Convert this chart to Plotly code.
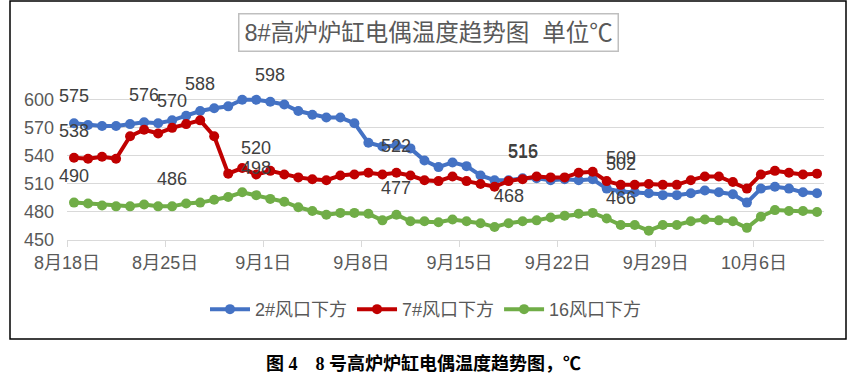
import pandas as pd
import plotly.graph_objects as go

dates = pd.date_range("2023-08-18", periods=54, freq="D")

blue_name = "2#风口下方"
red_name = "7#风口下方"
green_name = "16风口下方"

blue_vals = [575, 573, 572, 572, 574, 576, 575, 578, 583, 588,
             591, 593, 600, 600, 598, 595, 588, 584, 581, 581,
             575, 554, 550, 551, 548, 535, 528, 533, 529, 519,
             514, 514, 516, 516, 514, 515, 514, 515, 505, 502,
             501, 500, 498, 498, 500, 503, 501, 499, 490, 505,
             507, 505, 501, 500]
red_vals = [538, 537, 539, 537, 561, 568, 564, 570, 574, 578,
            561, 521, 527, 520, 524, 520, 517, 515, 514, 519,
            520, 522, 520, 522, 519, 514, 513, 518, 513, 510,
            507, 513, 515, 518, 517, 517, 522, 523, 513, 509,
            509, 510, 509, 509, 514, 518, 518, 512, 505, 520,
            524, 522, 520, 521]
green_vals = [490, 489, 487, 486, 486, 488, 486, 486, 489, 490,
              493, 496, 501, 498, 494, 491, 485, 481, 477, 479,
              479, 478, 471, 477, 470, 470, 469, 472, 470, 468,
              464, 468, 470, 471, 474, 476, 478, 479, 473, 466,
              466, 460, 466, 466, 470, 472, 471, 470, 463, 475,
              482, 481, 481, 480]

# indices of points that carry a data label
blue_label_idx = [0, 5, 9, 14, 32, 39]
red_label_idx = [0, 7, 13, 23, 32, 39]
green_label_idx = [0, 7, 13, 23, 31, 39]

tick_dates = ["2023-08-18", "2023-08-25", "2023-09-01", "2023-09-08",
              "2023-09-15", "2023-09-22", "2023-09-29", "2023-10-06"]
tick_labels = ["8月18日", "8月25日", "9月1日", "9月8日",
               "9月15日", "9月22日", "9月29日", "10月6日"]
y_ticks = [450, 480, 510, 540, 570, 600]

title_text = "8#高炉炉缸电偶温度趋势图  单位℃"
caption_text = "图 4　8 号高炉炉缸电偶温度趋势图，℃"

FONT = "Liberation Sans, Arial, Noto Sans CJK SC, sans-serif"
TXT = "#595959"
FS = 18

series = [
    (blue_name, blue_vals, "#4472C4", blue_label_idx),
    (red_name, red_vals, "#C00000", red_label_idx),
    (green_name, green_vals, "#70AD47", green_label_idx),
]

fig = go.Figure()
annotations = []
for name, vals, color, lidx in series:
    fig.add_trace(go.Scatter(
        x=dates, y=vals, name=name, mode="lines+markers",
        line=dict(color=color, width=4),
        marker=dict(color=color, size=10),
        cliponaxis=False,
    ))
    for i in lidx:
        annotations.append(dict(
            x=dates[i], y=vals[i], xref="x", yref="y",
            text=str(vals[i]), showarrow=False, yshift=27,
            font=dict(family=FONT, size=FS, color="#404040"),
        ))

half_day = pd.Timedelta(hours=12)
tickvals = [pd.Timestamp(d) - half_day for d in tick_dates]

annotations.append(dict(
    x=(428 - 67) / 757, y=(240 - 37) / 140, xref="paper", yref="paper", text=title_text,
    showarrow=False, xanchor="center", yanchor="middle",
    font=dict(family=FONT, size=23.5, color=TXT),
    bordercolor="#bfbfbf", borderwidth=1.5, borderpad=5, bgcolor="white",
))
annotations.append(dict(
    x=(423 - 67) / 757, y=-(361 - 240) / 140, xref="paper", yref="paper",
    text="<b>" + caption_text + "</b>", showarrow=False,
    xanchor="center", yanchor="middle",
    font=dict(family="Liberation Serif, Noto Sans CJK SC, serif", size=18, color="#000000"),
))

fig.update_layout(
    width=855, height=377,
    margin=dict(l=67, r=31, t=97, b=137),
    paper_bgcolor="white", plot_bgcolor="white",
    font=dict(family=FONT, size=FS, color=TXT),
    showlegend=True,
    legend=dict(orientation="h", x=(426 - 67) / 757, xanchor="center",
                y=-(308 - 240) / 140, yanchor="middle",
                font=dict(family=FONT, size=FS, color=TXT),
                itemwidth=40, tracegroupgap=0, bgcolor="rgba(0,0,0,0)"),
    annotations=annotations,
    shapes=[dict(type="rect", xref="paper", yref="paper",
                 x0=(10 - 67) / 757, x1=(846 - 67) / 757,
                 y0=-(337 - 240) / 140, y1=(240 - 6) / 140,
                 line=dict(color="#000000", width=1.5), layer="below")],
)
fig.update_xaxes(
    type="date",
    range=[pd.Timestamp("2023-08-18") - half_day, pd.Timestamp("2023-10-11") - half_day],
    tickvals=tickvals, ticktext=tick_labels,
    showgrid=False, showline=True, linecolor="#d9d9d9", linewidth=1,
    ticks="outside", ticklen=6, tickcolor="#d9d9d9",
    tickfont=dict(family=FONT, size=FS, color=TXT),
    zeroline=False,
)
fig.update_yaxes(
    range=[450, 603], tickvals=y_ticks,
    showgrid=True, gridcolor="#d9d9d9", gridwidth=1,
    zeroline=False, showline=False,
    tickfont=dict(family=FONT, size=FS, color=TXT),
    ticklabelstandoff=12,
)

fig.write_html("out.html", config={"displayModeBar": False},
               post_script="document.body.style.margin='0';")
